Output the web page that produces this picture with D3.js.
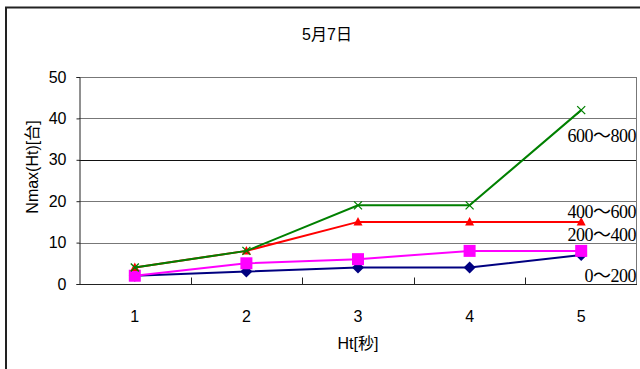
<!DOCTYPE html>
<html>
<head>
<meta charset="utf-8">
<script src="https://cdn.jsdelivr.net/npm/d3@7"></script>
<style>
  html, body { margin: 0; padding: 0; background: #fff; }
  svg { display: block; }
</style>
</head>
<body>
<svg id="chart" width="640" height="369"></svg>
<script>
// Nmax(Ht) by headway time, one series per range
const categories = ["1", "2", "3", "4", "5"];
const seriesNames = ["0～200", "200～400", "400～600", "600～800"];
const values0to200 = [2, 3, 4, 4, 7];
const values200to400 = [2, 5, 6, 8, 8];
const values400to600 = [4, 8, 15, 15, 15];
const values600to800 = [4, 8, 19, 19, 42];
const yTicks = [0, 10, 20, 30, 40, 50];

const series = [
  { name: seriesNames[0], values: values0to200, color: "#000080", marker: "diamond", labelY: 276 },
  { name: seriesNames[1], values: values200to400, color: "#ff00ff", marker: "square", labelY: 235 },
  { name: seriesNames[2], values: values400to600, color: "#ff0000", marker: "triangle", labelY: 212 },
  { name: seriesNames[3], values: values600to800, color: "#008000", marker: "cross", labelY: 136 }
];

const svg = d3.select("#chart");
const plot = { left: 79, right: 637, top: 77, bottom: 284 };

// outer chart frame
svg.append("path")
  .attr("d", `M6,369 V7.5 H640`)
  .attr("fill", "none").attr("stroke", "#222").attr("stroke-width", 2);

const x = d3.scaleBand().domain(categories).range([plot.left, plot.right]);
const y = d3.scaleLinear().domain([0, 50]).range([plot.bottom, plot.top]);

// gridlines
svg.append("g").selectAll("line")
  .data(yTicks.filter(t => t > 0))
  .join("line")
  .attr("x1", plot.left).attr("x2", plot.right)
  .attr("y1", d => Math.round(y(d)) + 0.5).attr("y2", d => Math.round(y(d)) + 0.5)
  .attr("stroke", d => d === 30 ? "#111" : "#777").attr("stroke-width", 1);

// plot frame right side
svg.append("line")
  .attr("x1", plot.right - 0.5).attr("x2", plot.right - 0.5)
  .attr("y1", plot.top).attr("y2", plot.bottom)
  .attr("stroke", "#777");

// y axis
const yAxis = svg.append("g")
  .attr("transform", `translate(${plot.left + 0.5},0)`)
  .call(d3.axisLeft(y).tickValues(yTicks).tickSize(3).tickPadding(10));
yAxis.select(".domain").attr("stroke", "#222");
yAxis.selectAll(".tick line").attr("stroke", "#222");
yAxis.selectAll("text")
  .attr("font-family", "'Liberation Sans', Arial, sans-serif")
  .attr("font-size", 16).attr("fill", "#000");

// x axis: ticks at the band boundaries, pointing into the plot
const xAxisG = svg.append("g").attr("transform", `translate(0,${plot.bottom + 0.5})`);
xAxisG.append("line")
  .attr("x1", plot.left).attr("x2", plot.right)
  .attr("stroke", "#222");
xAxisG.selectAll("line.tk")
  .data(categories.slice(1))
  .join("line").attr("class", "tk")
  .attr("x1", d => Math.round(x(d)) + 0.5).attr("x2", d => Math.round(x(d)) + 0.5)
  .attr("y1", 0).attr("y2", -7)
  .attr("stroke", "#222");
svg.append("g").selectAll("text")
  .data(categories)
  .join("text")
  .attr("x", d => x(d) + x.bandwidth() / 2)
  .attr("y", 322)
  .attr("text-anchor", "middle")
  .attr("font-family", "'Liberation Sans', Arial, sans-serif")
  .attr("font-size", 16)
  .text(d => d);

// titles
const sansCJK = "'Liberation Sans', 'Noto Sans CJK JP', sans-serif";
svg.append("text")
  .attr("x", 327).attr("y", 40)
  .attr("text-anchor", "middle")
  .attr("font-family", sansCJK).attr("font-size", 16)
  .text("5月7日");
svg.append("text")
  .attr("x", 358).attr("y", 349)
  .attr("text-anchor", "middle")
  .attr("font-family", sansCJK).attr("font-size", 16)
  .text("Ht[秒]");
svg.append("text")
  .attr("transform", "translate(38,167) rotate(-90)")
  .attr("text-anchor", "middle")
  .attr("font-family", sansCJK).attr("font-size", 16)
  .text("Nmax(Ht)[台]");

// series lines and markers
const cx = d => x(d) + x.bandwidth() / 2;
const line = d3.line().x((v, i) => cx(categories[i])).y(v => y(v));

function drawMarker(g, type, color) {
  if (type === "diamond") {
    g.append("path").attr("d", "M0,-6 L6,0 L0,6 L-6,0 Z").attr("fill", color);
  } else if (type === "square") {
    g.append("rect").attr("x", -6).attr("y", -6).attr("width", 12).attr("height", 12).attr("fill", color);
  } else if (type === "triangle") {
    g.append("path").attr("d", "M0,-5 L4.5,3.5 L-4.5,3.5 Z").attr("fill", color);
  } else if (type === "cross") {
    g.append("path").attr("d", "M-4,-4 L4,4 M-4,4 L4,-4")
      .attr("stroke", color).attr("stroke-width", 1.3).attr("fill", "none");
  }
}

series.forEach(s => {
  const g = svg.append("g");
  g.append("path")
    .attr("d", line(s.values))
    .attr("fill", "none")
    .attr("stroke", s.color)
    .attr("stroke-width", 2);
  s.values.forEach((v, i) => {
    const m = g.append("g").attr("transform", `translate(${cx(categories[i])},${y(v)})`);
    drawMarker(m, s.marker, s.color);
  });
});

// series labels at the right edge
svg.append("g").selectAll("text")
  .data(series)
  .join("text")
  .attr("x", 636).attr("y", d => d.labelY + 6)
  .attr("text-anchor", "end")
  .attr("font-family", "'Liberation Serif', 'Times New Roman', 'Noto Sans CJK JP', serif")
  .attr("font-size", 18)
  .attr("letter-spacing", -0.5)
  .text(d => d.name);
</script>
</body>
</html>
